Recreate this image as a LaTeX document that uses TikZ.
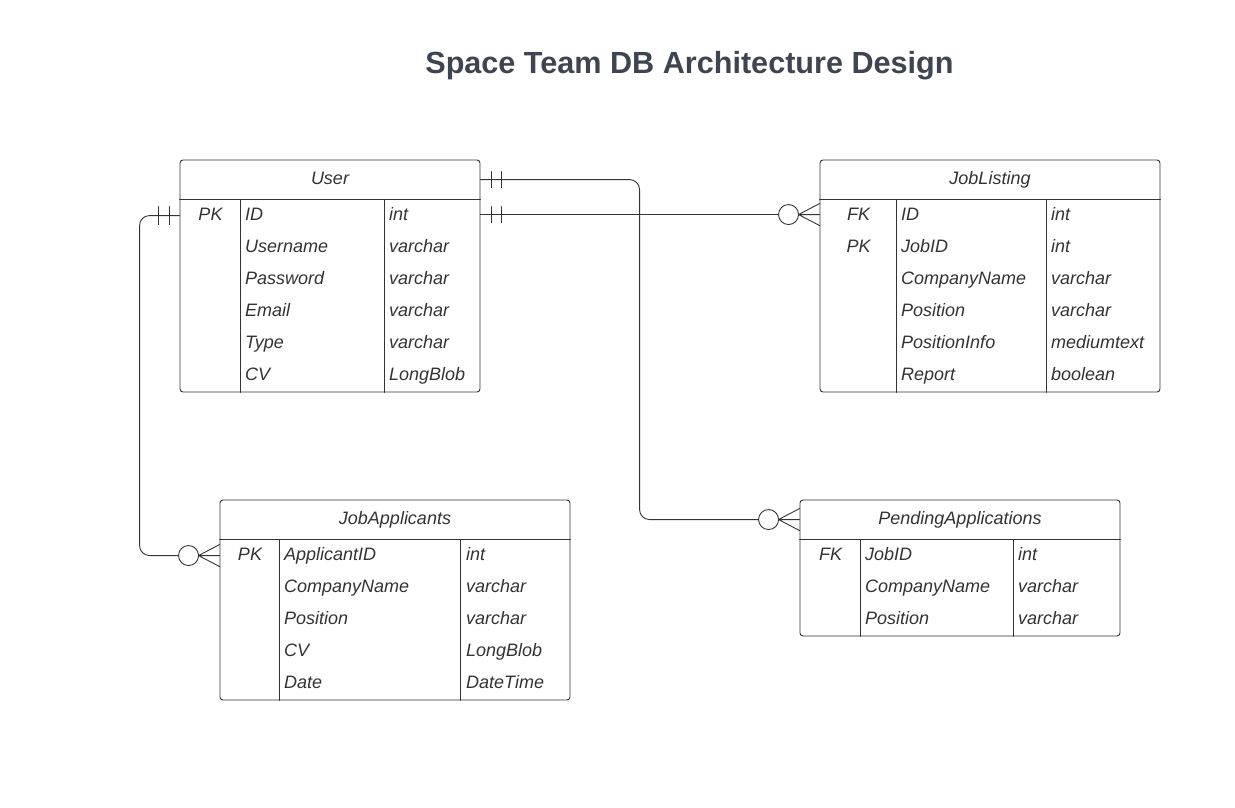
\documentclass[tikz,border=0pt]{standalone}
\usepackage{fontspec}
\setmainfont{Liberation Sans}
\usepackage{xcolor}
\usetikzlibrary{calc}
\definecolor{ink}{HTML}{333333}
\definecolor{titlegray}{HTML}{3E4550}
\newcommand{\cellfont}{\fontsize{18}{21.6}\selectfont\itshape}
\tikzset{
	tbl/.style={draw=ink, line width=0.9pt, rounded corners=3pt, inner sep=0pt},
	grid/.style={draw=ink, line width=0.9pt},
	conn/.style={draw=ink, line width=0.9pt},
	hdr/.style={anchor=base, inner sep=0pt, yshift=-1pt, text=ink, font=\cellfont},
	key/.style={anchor=base, inner sep=0pt, yshift=-1pt, text=ink, font=\cellfont},
	fld/.style={anchor=base west, inner sep=0pt, yshift=-1pt, text=ink, font=\cellfont}
}

\begin{document}
\begin{tikzpicture}[x=1pt, y=-1pt, line cap=round, line join=round]
    \useasboundingbox (0,0) rectangle (1235,808);

    \node[text=titlegray, font=\fontsize{30.6}{36}\selectfont\bfseries] (ttl) at (689.5,66) {Space Team DB Architecture Design};

    \node[tbl, minimum width=300pt, minimum height=232pt] (user) at (330,276) {};
    \node[tbl, minimum width=340pt, minimum height=232pt] (jobl) at (990,276) {};
    \node[tbl, minimum width=350pt, minimum height=200pt] (appl) at (395,600) {};
    \node[tbl, minimum width=320pt, minimum height=136pt] (pend) at (960,568) {};

    \draw[grid] ($(user.north west)+(0,40)$) -- ($(user.north east)+(0,40)$);
    \draw[grid] ($(user.north west)+(61,40)$) -- ($(user.south west)+(61,0)$);
    \draw[grid] ($(user.north west)+(205,40)$) -- ($(user.south west)+(205,0)$);

    \draw[grid] ($(jobl.north west)+(0,40)$) -- ($(jobl.north east)+(0,40)$);
    \draw[grid] ($(jobl.north west)+(77,40)$) -- ($(jobl.south west)+(77,0)$);
    \draw[grid] ($(jobl.north west)+(227,40)$) -- ($(jobl.south west)+(227,0)$);

    \draw[grid] ($(appl.north west)+(0,40)$) -- ($(appl.north east)+(0,40)$);
    \draw[grid] ($(appl.north west)+(60,40)$) -- ($(appl.south west)+(60,0)$);
    \draw[grid] ($(appl.north west)+(241,40)$) -- ($(appl.south west)+(241,0)$);

    \draw[grid] ($(pend.north west)+(0,40)$) -- ($(pend.north east)+(0,40)$);
    \draw[grid] ($(pend.north west)+(61,40)$) -- ($(pend.south west)+(61,0)$);
    \draw[grid] ($(pend.north west)+(214,40)$) -- ($(pend.south west)+(214,0)$);

    % User
    \node[hdr] (u-t) at (330,183.5) {User};
    \node[key] (u-pk) at (210.5,219.5) {PK};
    \node[fld] (u-id)   at (245,219.5) {ID};
    \node[fld] (u-name) at (245,251.5) {Username};
    \node[fld] (u-pass) at (245,283.5) {Password};
    \node[fld] (u-mail) at (245,315.5) {Email};
    \node[fld] (u-type) at (245,347.5) {Type};
    \node[fld] (u-cv)   at (245,379.5) {CV};
    \node[fld] (u-id-t)   at (389,219.5) {int};
    \node[fld] (u-name-t) at (389,251.5) {varchar};
    \node[fld] (u-pass-t) at (389,283.5) {varchar};
    \node[fld] (u-mail-t) at (389,315.5) {varchar};
    \node[fld] (u-type-t) at (389,347.5) {varchar};
    \node[fld] (u-cv-t)   at (389,379.5) {LongBlob};

    % JobListing
    \node[hdr] (j-t) at (990,183.5) {JobListing};
    \node[key] (j-fk) at (858.5,219.5) {FK};
    \node[key] (j-pk) at (858.5,251.5) {PK};
    \node[fld] (j-id)   at (901,219.5) {ID};
    \node[fld] (j-job)  at (901,251.5) {JobID};
    \node[fld] (j-comp) at (901,283.5) {CompanyName};
    \node[fld] (j-pos)  at (901,315.5) {Position};
    \node[fld] (j-info) at (901,347.5) {PositionInfo};
    \node[fld] (j-rep)  at (901,379.5) {Report};
    \node[fld] (j-id-t)   at (1051,219.5) {int};
    \node[fld] (j-job-t)  at (1051,251.5) {int};
    \node[fld] (j-comp-t) at (1051,283.5) {varchar};
    \node[fld] (j-pos-t)  at (1051,315.5) {varchar};
    \node[fld] (j-info-t) at (1051,347.5) {mediumtext};
    \node[fld] (j-rep-t)  at (1051,379.5) {boolean};

    % JobApplicants
    \node[hdr] (a-t) at (395,523.5) {JobApplicants};
    \node[key] (a-pk) at (250,559.5) {PK};
    \node[fld] (a-id)   at (284,559.5) {ApplicantID};
    \node[fld] (a-comp) at (284,591.5) {CompanyName};
    \node[fld] (a-pos)  at (284,623.5) {Position};
    \node[fld] (a-cv)   at (284,655.5) {CV};
    \node[fld] (a-date) at (284,687.5) {Date};
    \node[fld] (a-id-t)   at (466,559.5) {int};
    \node[fld] (a-comp-t) at (466,591.5) {varchar};
    \node[fld] (a-pos-t)  at (466,623.5) {varchar};
    \node[fld] (a-cv-t)   at (466,655.5) {LongBlob};
    \node[fld] (a-date-t) at (466,687.5) {DateTime};

    % PendingApplications
    \node[hdr] (p-t) at (960,523.5) {PendingApplications};
    \node[key] (p-fk) at (830.5,559.5) {FK};
    \node[fld] (p-job)  at (865,559.5) {JobID};
    \node[fld] (p-comp) at (865,591.5) {CompanyName};
    \node[fld] (p-pos)  at (865,623.5) {Position};
    \node[fld] (p-job-t)  at (1018,559.5) {int};
    \node[fld] (p-comp-t) at (1018,591.5) {varchar};
    \node[fld] (p-pos-t)  at (1018,623.5) {varchar};

    \coordinate (u-out1) at ($(user.north east)+(0,20)$);
    \coordinate (u-out2) at ($(user.north east)+(0,55)$);
    \coordinate (u-out3) at ($(user.north west)+(0,56)$);
    \coordinate (j-in) at ($(jobl.north west)+(0,55)$);
    \coordinate (p-in) at ($(pend.north west)+(0,20)$);
    \coordinate (a-in) at ($(appl.north west)+(0,56)$);
    \coordinate (bend1) at ($(p-in)+(-160,0)$);
    \coordinate (bend3) at ($(a-in)+(-80,0)$);

    \draw[conn, rounded corners=10pt] (u-out1) -- (u-out1 -| bend1) -- (bend1) -- ($(p-in)+(-41,0)$);
    \draw[conn] (u-out2) -- ($(j-in)+(-41,0)$);
    \draw[conn, rounded corners=10pt] (u-out3) -- (u-out3 -| bend3) -- (bend3) -- ($(a-in)+(-41,0)$);

    \draw[conn] ($(u-out1)+(11,-8)$) -- ($(u-out1)+(11,8)$);
    \draw[conn] ($(u-out1)+(21,-8)$) -- ($(u-out1)+(21,8)$);
    \draw[conn] ($(u-out2)+(11,-8)$) -- ($(u-out2)+(11,8)$);
    \draw[conn] ($(u-out2)+(21,-8)$) -- ($(u-out2)+(21,8)$);
    \draw[conn] ($(u-out3)+(-10,-9)$) -- ($(u-out3)+(-10,9)$);
    \draw[conn] ($(u-out3)+(-21,-9)$) -- ($(u-out3)+(-21,9)$);

    \draw[conn] ($(j-in)+(-31,0)$) circle (10);
    \draw[conn] ($(j-in)+(0,-11)$) -- ($(j-in)+(-21,0)$) -- ($(j-in)+(0,11)$) ($(j-in)+(-21,0)$) -- (j-in);

    \draw[conn] ($(p-in)+(-31,0)$) circle (10);
    \draw[conn] ($(p-in)+(0,-11)$) -- ($(p-in)+(-21,0)$) -- ($(p-in)+(0,11)$) ($(p-in)+(-21,0)$) -- (p-in);

    \draw[conn] ($(a-in)+(-31,0)$) circle (10);
    \draw[conn] ($(a-in)+(0,-11)$) -- ($(a-in)+(-21,0)$) -- ($(a-in)+(0,11)$) ($(a-in)+(-21,0)$) -- (a-in);
\end{tikzpicture}
\end{document}
